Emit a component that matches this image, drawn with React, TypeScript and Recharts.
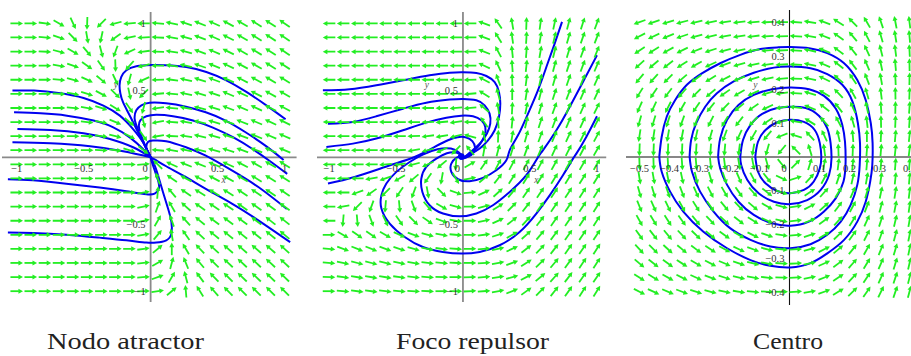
import React from 'react';
import { ComposedChart, XAxis, YAxis, Scatter, Line, ReferenceLine } from 'recharts';

// ---------- grids (arrow positions) ----------
const GRID_XY_1: number[] = [-1, -0.895, -0.789, -0.684, -0.579, -0.474, -0.368, -0.263, -0.158, -0.053, 0.053, 0.158, 0.263, 0.368, 0.474, 0.579, 0.684, 0.789, 0.895, 1];
const GRID_Y_1: number[] = [1, 0.895, 0.789, 0.684, 0.579, 0.474, 0.368, 0.263, 0.158, 0.053, -0.053, -0.158, -0.263, -0.368, -0.474, -0.579, -0.684, -0.789, -0.895, -1];
const GRID_X_3: number[] = [-0.5, -0.453, -0.405, -0.358, -0.311, -0.263, -0.216, -0.168, -0.121, -0.074, -0.026, 0.021, 0.068, 0.116, 0.163, 0.211, 0.258, 0.305, 0.353, 0.4];
const GRID_Y_3: number[] = [0.4, 0.358, 0.316, 0.274, 0.232, 0.189, 0.147, 0.105, 0.063, 0.021, -0.021, -0.063, -0.105, -0.147, -0.189, -0.232, -0.274, -0.316, -0.358, -0.4];

// ---------- arrow directions (degrees, counter-clockwise from +x) ----------
const NODO_ANGLES: number[][] = [
  [0,0,352,330,295,268,225,195,185,180,175,168,162,158,155,152,150,148,147,146],
  [0,0,355,340,315,280,258,215,192,183,177,170,164,159,156,153,150,148,147,146],
  [0,0,357,345,330,310,285,250,205,188,178,171,165,160,157,154,151,149,147,146],
  [0,0,0,350,340,325,305,272,228,195,180,172,166,161,158,155,152,150,148,147],
  [0,0,0,355,345,335,320,295,255,205,182,173,167,162,159,156,153,151,149,148],
  [0,0,0,357,350,343,332,315,282,225,185,174,168,163,160,157,155,153,151,150],
  [0,0,0,0,355,350,342,328,305,255,188,175,169,165,162,159,157,155,153,152],
  [0,0,0,0,357,354,348,338,320,285,190,176,170,166,163,161,159,157,155,154],
  [0,0,0,0,0,357,353,346,333,305,190,177,171,167,164,162,160,158,157,156],
  [0,0,0,0,0,0,357,352,343,322,175,170,168,166,164,162,160,159,158,157],
  [0,0,0,0,0,0,0,0,0,5,135,155,158,158,157,155,153,151,150,148],
  [0,0,0,0,0,0,0,0,0,8,110,145,152,153,152,151,150,149,148,147],
  [0,0,0,0,0,0,0,0,0,10,85,130,145,148,148,148,147,146,145,145],
  [0,0,0,0,0,0,0,0,0,12,70,120,138,145,146,146,145,145,144,144],
  [0,0,0,0,0,0,0,0,0,12,60,110,132,140,143,143,143,143,142,142],
  [0,0,0,0,0,0,0,0,0,10,50,100,125,137,141,141,141,141,141,140],
  [0,0,0,0,0,0,0,0,0,8,40,90,120,133,138,139,139,139,139,138],
  [0,0,0,0,0,0,0,0,0,6,30,75,112,130,136,137,137,137,137,137],
  [0,0,0,0,0,0,0,0,0,4,20,60,105,127,134,135,136,136,136,136],
  [0,0,0,0,0,0,0,0,0,2,8,40,95,122,131,134,135,135,135,135],
];

const FOCO_ANGLES: number[][] = [
  [180,180,180,180,180,180,180,180,180,180,180,160,125,100,88,82,78,75,72,70],
  [180,180,180,180,180,180,180,180,180,180,180,160,122,98,87,81,77,74,71,69],
  [180,180,180,180,180,180,180,180,180,180,180,158,118,96,86,80,76,73,70,68],
  [180,180,180,180,180,180,180,180,180,180,180,155,115,94,84,79,75,72,69,67],
  [180,180,180,180,180,180,180,180,180,180,182,152,110,92,83,78,74,71,68,66],
  [180,180,180,180,180,180,180,180,180,182,185,148,105,90,81,76,72,69,67,65],
  [180,180,180,180,180,180,180,180,182,185,185,140,100,87,79,74,70,68,66,64],
  [180,180,180,180,180,180,180,182,185,188,180,125,95,84,77,72,69,67,65,63],
  [180,180,180,180,180,180,182,188,190,195,165,105,88,80,74,70,67,65,63,62],
  [180,180,180,180,180,182,190,195,205,225,130,80,75,72,70,67,65,63,62,60],
  [180,180,180,180,185,190,195,205,220,265,30,55,62,62,62,62,61,60,60,60],
  [180,180,180,190,200,210,220,235,260,300,10,40,52,57,58,58,58,58,58,58],
  [180,180,200,215,225,235,250,280,315,340,5,25,42,50,55,56,57,57,58,58],
  [180,190,225,250,265,275,290,310,330,345,0,15,32,45,52,55,56,57,57,58],
  [180,265,275,290,295,305,315,325,340,350,0,12,25,38,48,52,55,56,57,58],
  [0,330,325,325,330,335,340,345,350,355,0,8,18,30,42,50,53,55,56,57],
  [355,340,338,338,340,342,345,348,352,356,0,5,12,25,38,47,52,55,56,57],
  [355,348,345,345,346,348,350,352,355,358,0,4,10,20,33,44,50,54,56,57],
  [358,352,350,350,350,352,354,356,358,0,2,5,9,16,28,40,48,53,55,56],
  [0,355,352,352,353,355,357,358,0,0,3,5,10,22,36,46,52,55,57,58],
];

const CENTRO_ANGLES: number[][] = [
  [200,199,197,195,193,191,189,187,185,183,180,176,170,160,148,134,120,109,101,97],
  [207,205,202,199,196,194,191,189,187,184,181,176,169,158,145,130,117,106,99,95],
  [214,212,209,206,202,198,195,192,189,186,182,176,168,157,143,128,115,104,97,93],
  [222,220,217,213,209,204,200,196,192,188,183,177,168,156,142,127,113,102,95,91],
  [230,228,225,221,217,212,207,202,197,192,186,178,167,154,139,124,111,100,93,89],
  [238,236,233,229,225,220,215,210,204,198,188,176,163,149,134,119,106,97,91,88],
  [246,245,243,240,236,231,226,220,214,205,190,173,157,142,128,114,102,94,89,86],
  [254,253,252,250,247,243,238,232,226,214,195,170,148,132,118,106,97,91,88,86],
  [261,261,260,259,257,254,250,245,240,230,202,162,133,115,103,95,90,87,85,84],
  [268,268,268,268,267,266,265,263,260,254,230,135,107,98,92,88,86,85,84,83],
  [272,272,273,274,275,276,277,279,281,286,309,45,73,80,83,84,85,85,86,86],
  [279,280,281,282,284,286,289,293,298,308,335,18,47,62,71,77,80,82,84,85],
  [286,287,289,291,294,297,300,305,311,322,342,10,33,48,59,67,74,78,81,83],
  [292,294,296,299,302,305,309,314,320,330,345,8,27,42,53,62,69,75,79,82],
  [299,301,303,306,309,313,317,322,328,336,348,6,22,36,48,58,66,72,77,80],
  [306,308,310,313,316,320,324,329,334,341,351,4,18,31,44,54,63,70,75,79],
  [313,315,317,320,323,327,331,335,340,346,354,3,15,27,40,51,61,68,74,78],
  [320,322,324,327,330,333,337,341,345,350,356,3,12,24,37,49,59,67,73,77],
  [327,329,331,333,336,339,342,346,350,354,358,3,11,22,34,46,57,66,72,76],
  [333,335,337,339,342,345,348,351,354,357,0,4,10,20,32,44,55,64,71,75],
];

// ---------- trajectories ----------
type P = [number, number];
const NODO_CURVES: P[][] = [
  [[1.008,0.284],[0.864,0.388],[0.715,0.488],[0.565,0.575],[0.416,0.637],[0.266,0.674],[0.117,0.687],[0.005,0.689],[-0.107,0.68],[-0.181,0.65],[-0.219,0.6],[-0.232,0.538],[-0.226,0.476],[-0.207,0.413],[-0.17,0.338],[-0.132,0.264],[-0.095,0.189],[-0.057,0.114],[-0.02,0.04],[0,0]],
  [[0.993,-0.02],[0.857,0.087],[0.709,0.187],[0.56,0.274],[0.412,0.336],[0.264,0.378],[0.116,0.403],[-0.007,0.407],[-0.069,0.388],[-0.107,0.351],[-0.119,0.285],[-0.095,0.21],[-0.063,0.135],[-0.03,0.062],[0,0]],
  [[1.02,-0.124],[0.9,-0.035],[0.764,0.06],[0.615,0.15],[0.465,0.222],[0.316,0.275],[0.167,0.307],[0.042,0.317],[-0.032,0.306],[-0.077,0.276],[-0.087,0.226],[-0.07,0.16],[-0.045,0.095],[-0.02,0.04],[0,0]],
  [[1.017,-0.386],[0.807,-0.224],[0.61,-0.1],[0.412,0.012],[0.264,0.075],[0.116,0.12],[0.017,0.125],[-0.02,0.114],[-0.032,0.077],[-0.02,0.035],[0,0]],
  [[1.042,-0.634],[0.807,-0.473],[0.61,-0.348],[0.412,-0.236],[0.264,-0.149],[0.116,-0.067],[0.04,-0.022],[0,0]],
  [[-1.032,0.498],[-0.872,0.498],[-0.674,0.478],[-0.501,0.443],[-0.353,0.386],[-0.23,0.311],[-0.131,0.211],[-0.057,0.112],[0,0]],
  [[-1.02,0.336],[-0.822,0.328],[-0.625,0.311],[-0.427,0.274],[-0.279,0.224],[-0.156,0.149],[-0.057,0.062],[0,0]],
  [[-0.995,0.211],[-0.748,0.204],[-0.501,0.179],[-0.304,0.137],[-0.131,0.075],[0,0]],
  [[-1.032,0.112],[-0.748,0.104],[-0.452,0.082],[-0.205,0.045],[0,0]],
  [[-1.066,-0.164],[-0.879,-0.172],[-0.63,-0.197],[-0.381,-0.226],[-0.181,-0.254],[-0.032,-0.276],[0.03,-0.271],[0.062,-0.234],[0.055,-0.172],[0.03,-0.097],[0.005,-0.022],[0,0]],
  [[-1.066,-0.562],[-0.879,-0.565],[-0.63,-0.578],[-0.381,-0.6],[-0.181,-0.62],[-0.032,-0.637],[0.042,-0.637],[0.117,-0.62],[0.155,-0.57],[0.155,-0.483],[0.13,-0.383],[0.092,-0.259],[0.055,-0.134],[0.03,-0.06],[0,0]],
];

const FOCO_CURVES: P[][] = [
  [[-1.046,0.5],[-0.846,0.508],[-0.647,0.538],[-0.448,0.575],[-0.249,0.612],[-0.099,0.632],[0,0.635],[0.1,0.63],[0.175,0.607],[0.237,0.562],[0.269,0.488],[0.279,0.401],[0.269,0.301],[0.237,0.202],[0.187,0.127],[0.125,0.065],[0.063,0.028],[0.013,0.002],[-0.015,-0.012],[-0.03,0.005],[-0.012,0.022],[0.006,0.01],[0,0]],
  [[-1.008,0.251],[-0.822,0.264],[-0.647,0.306],[-0.448,0.363],[-0.274,0.408],[-0.099,0.431],[0,0.436],[0.1,0.426],[0.162,0.388],[0.199,0.326],[0.204,0.251],[0.179,0.177],[0.137,0.115],[0.087,0.065],[0.037,0.022],[0,-0.005],[-0.025,0],[-0.02,0.02],[0,0.01]],
  [[-1.02,0.077],[-0.822,0.102],[-0.647,0.14],[-0.448,0.202],[-0.274,0.259],[-0.124,0.296],[-0.012,0.311],[0.075,0.306],[0.137,0.276],[0.167,0.226],[0.162,0.164],[0.13,0.102],[0.087,0.052],[0.045,0.015],[0.005,-0.01],[-0.02,0],[-0.012,0.015],[0,0.005]],
  [[-1.008,-0.196],[-0.809,-0.147],[-0.56,-0.065],[-0.361,0.002],[-0.211,0.077],[-0.112,0.127],[-0.04,0.15],[0.025,0.148],[0.07,0.12],[0.09,0.075],[0.075,0.03],[0.04,0.005],[0.01,-0.005],[0,0]],
  [[0.74,1.011],[0.685,0.849],[0.623,0.674],[0.56,0.5],[0.486,0.326],[0.411,0.164],[0.349,0.052],[0.324,-0.022],[0.249,-0.097],[0.149,-0.154],[0.05,-0.179],[-0.037,-0.164],[-0.087,-0.109],[-0.087,-0.047],[-0.049,-0.005],[-0.015,0.005],[0,0]],
  [[1.001,0.762],[0.896,0.562],[0.797,0.376],[0.698,0.202],[0.597,0.052],[0.56,0],[0.473,-0.134],[0.349,-0.259],[0.224,-0.358],[0.1,-0.42],[-0.025,-0.441],[-0.149,-0.42],[-0.249,-0.358],[-0.303,-0.259],[-0.311,-0.159],[-0.274,-0.072],[-0.199,-0.01],[-0.12,0.03],[-0.05,0.035],[-0.01,0.01],[0,0]],
  [[1.001,0.306],[0.921,0.152],[0.847,0.027],[0.822,-0.01],[0.747,-0.134],[0.648,-0.284],[0.548,-0.42],[0.423,-0.558],[0.274,-0.657],[0.125,-0.707],[-0.012,-0.719],[-0.149,-0.707],[-0.299,-0.67],[-0.435,-0.595],[-0.547,-0.495],[-0.609,-0.383],[-0.609,-0.284],[-0.572,-0.196],[-0.497,-0.109],[-0.398,-0.035],[-0.3,0.02],[-0.19,0.06],[-0.09,0.065],[-0.03,0.035],[0,0]],
];

const CENTRO_ORBITS: P[][] = [
  [[-0.434,0.001],[-0.426,0.06],[-0.409,0.12],[-0.381,0.169],[-0.342,0.214],[-0.292,0.248],[-0.231,0.278],[-0.164,0.303],[-0.097,0.32],[-0.041,0.325],[0.003,0.326],[0.07,0.322],[0.126,0.308],[0.182,0.278],[0.226,0.228],[0.254,0.169],[0.271,0.1],[0.277,0.041],[0.276,-0.024],[0.269,-0.073],[0.254,-0.133],[0.226,-0.192],[0.182,-0.246],[0.126,-0.286],[0.07,-0.315],[0.003,-0.328],[-0.064,-0.323],[-0.13,-0.306],[-0.208,-0.271],[-0.287,-0.222],[-0.354,-0.162],[-0.398,-0.103],[-0.426,-0.044],[-0.434,0.001]],
  [[-0.333,0.001],[-0.328,0.05],[-0.311,0.1],[-0.281,0.149],[-0.242,0.189],[-0.186,0.224],[-0.119,0.25],[-0.052,0.265],[0.003,0.268],[0.07,0.263],[0.126,0.246],[0.176,0.214],[0.21,0.164],[0.228,0.1],[0.235,0.041],[0.234,-0.024],[0.226,-0.083],[0.204,-0.142],[0.171,-0.192],[0.126,-0.231],[0.07,-0.259],[0.003,-0.271],[-0.064,-0.266],[-0.13,-0.246],[-0.197,-0.212],[-0.253,-0.162],[-0.298,-0.103],[-0.325,-0.044],[-0.333,0.001]],
  [[-0.238,0.001],[-0.231,0.055],[-0.208,0.11],[-0.17,0.154],[-0.119,0.184],[-0.058,0.201],[0.003,0.206],[0.065,0.201],[0.115,0.181],[0.154,0.144],[0.176,0.095],[0.185,0.045],[0.187,-0.014],[0.18,-0.073],[0.154,-0.123],[0.115,-0.162],[0.065,-0.192],[0.003,-0.204],[-0.058,-0.197],[-0.119,-0.172],[-0.17,-0.133],[-0.208,-0.083],[-0.231,-0.034],[-0.238,0.001]],
  [[-0.164,0.001],[-0.155,0.05],[-0.13,0.095],[-0.091,0.128],[-0.041,0.145],[0.003,0.149],[0.054,0.145],[0.098,0.122],[0.126,0.085],[0.137,0.041],[0.14,-0.004],[0.132,-0.053],[0.104,-0.098],[0.059,-0.128],[0.003,-0.14],[-0.052,-0.133],[-0.103,-0.108],[-0.141,-0.068],[-0.161,-0.024],[-0.164,0.001]],
  [[-0.114,0.001],[-0.105,0.045],[-0.08,0.08],[-0.041,0.103],[0.003,0.11],[0.048,0.104],[0.084,0.08],[0.101,0.041],[0.106,0.001],[0.101,-0.034],[0.081,-0.073],[0.048,-0.098],[0.003,-0.108],[-0.041,-0.101],[-0.08,-0.078],[-0.105,-0.044],[-0.114,0.001]],
];

// ---------- tick labels ----------
const TICKS_1_X: number[] = [-1, -0.5, 0, 0.5, 1];
const TICKS_1_X_TEXT: string[] = ['−1', '−0.5', '0', '0.5', '1'];
const TICKS_1_Y: number[] = [1, 0.5, -0.5, -1];
const TICKS_1_Y_TEXT: string[] = ['1', '0.5', '−0.5', '−1'];
const TICKS_3_X: number[] = [-0.5, -0.4, -0.3, -0.2, -0.1, 0, 0.1, 0.2, 0.3, 0.4];
const TICKS_3_X_TEXT: string[] = ['−0.5', '−0.4', '−0.3', '−0.2', '−0.1', '0', '0.1', '0.2', '0.3', '0.4'];
const TICKS_3_Y: number[] = [0.4, 0.3, 0.2, 0.1, -0.1, -0.2, -0.3, -0.4];
const TICKS_3_Y_TEXT: string[] = ['0.4', '0.3', '0.2', '0.1', '−0.1', '−0.2', '−0.3', '−0.4'];
const AXIS_NAMES_1: { x: number; y: number; t: string }[] = [{ x: 0.545, y: -0.17, t: 'x' }, { x: -0.26, y: 0.54, t: 'y' }];
const AXIS_NAMES_2: { x: number; y: number; t: string }[] = [{ x: 0.548, y: -0.17, t: 'x' }, { x: -0.269, y: 0.538, t: 'y' }];
const AXIS_NAMES_3: { x: number; y: number; t: string }[] = [{ x: -0.114, y: 0.214, t: 'y' }];
const CAPTIONS: string[] = ['Nodo atractor', 'Foco repulsor', 'Centro'];

// ---------- helpers ----------
const GREEN = '#22ee22';
const BLUE = '#0000f0';

function buildArrows(gx: number[], gy: number[], ang: number[][]) {
  const out: { x: number; y: number; a: number }[] = [];
  gy.forEach((y, i) => gx.forEach((x, j) => out.push({ x, y, a: ang[i][j] })));
  return out;
}
function toPts(c: P[]) {
  return c.map(([x, y]) => ({ x, y }));
}
function buildLabels(tx: number[], txt: string[], ty: number[], tyt: string[], names: { x: number; y: number; t: string }[]) {
  const out: any[] = [];
  tx.forEach((v, i) => out.push({ x: v, y: 0, t: txt[i], k: v === 0 ? 'x0' : 'x' }));
  ty.forEach((v, i) => out.push({ x: 0, y: v, t: tyt[i], k: 'y' }));
  names.forEach((n) => out.push({ x: n.x, y: n.y, t: n.t, k: 'n' }));
  return out;
}

const Arrow = (props: any) => {
  const { cx, cy, payload } = props;
  if (cx == null || cy == null) return <g />;
  const r = (payload.a * Math.PI) / 180;
  const dx = Math.cos(r);
  const dy = -Math.sin(r);
  const L = 12.6;
  const H = 4.6;
  const W = 2.5;
  const x0 = cx - (dx * L) / 2;
  const y0 = cy - (dy * L) / 2;
  const x1 = cx + (dx * L) / 2;
  const y1 = cy + (dy * L) / 2;
  const bx = x1 - dx * H;
  const by = y1 - dy * H;
  const px = -dy;
  const py = dx;
  return (
    <g>
      <line x1={x0} y1={y0} x2={bx + dx * 0.5} y2={by + dy * 0.5} stroke={GREEN} strokeWidth={1.8} />
      <polygon points={`${x1},${y1} ${bx + px * W},${by + py * W} ${bx - px * W},${by - py * W}`} fill={GREEN} />
    </g>
  );
};

const TickLabel = (props: any) => {
  const { cx, cy, payload } = props;
  if (cx == null || cy == null) return <g />;
  const k = payload.k;
  let x = cx;
  let y = cy;
  let anchor: any = 'middle';
  if (k === 'x') {
    y = cy + 15;
  } else if (k === 'x0') {
    x = cx - 5.5;
    y = cy + 15;
  } else if (k === 'y') {
    x = cx - 5;
    y = cy + 3.8;
    anchor = 'end';
  } else {
    y = cy + 3;
  }
  return (
    <text
      x={x}
      y={y}
      textAnchor={anchor}
      fontFamily="'Liberation Serif', 'Times New Roman', serif"
      fontSize={k === 'n' ? 9.5 : 10.5}
      fontStyle={k === 'n' ? 'italic' : 'normal'}
      fill={k === 'n' ? '#555' : '#333'}
    >
      {payload.t}
    </text>
  );
};

type PanelProps = {
  ox: number;
  oy: number;
  sx: number;
  sy: number;
  xd: [number, number];
  yd: [number, number];
  arrows: any[];
  curves: P[][];
  labels: any[];
  axisColor: string;
  axisWidth: number;
};

function Panel({ ox, oy, sx, sy, xd, yd, arrows, curves, labels, axisColor, axisWidth }: PanelProps) {
  const left = ox + xd[0] * sx;
  const top = oy - yd[1] * sy;
  const width = (xd[1] - xd[0]) * sx;
  const height = (yd[1] - yd[0]) * sy;
  return (
    <div style={{ position: 'absolute', left, top }}>
      <ComposedChart width={width} height={height} margin={{ top: 0, right: 0, bottom: 0, left: 0 }} style={{ overflow: 'visible' }}>
        <XAxis type="number" dataKey="x" domain={xd} hide allowDataOverflow />
        <YAxis type="number" dataKey="y" domain={yd} hide allowDataOverflow />
        <ReferenceLine x={0} stroke={axisColor} strokeWidth={axisWidth} />
        <ReferenceLine y={0} stroke={axisColor} strokeWidth={axisWidth} />
        <Scatter data={arrows} shape={Arrow} isAnimationActive={false} />
        {curves.map((c, i) => (
          <Line
            key={i}
            data={toPts(c)}
            dataKey="y"
            type="natural"
            stroke={BLUE}
            strokeWidth={2}
            dot={false}
            activeDot={false}
            isAnimationActive={false}
          />
        ))}
        <Scatter data={labels} shape={TickLabel} isAnimationActive={false} />
      </ComposedChart>
    </div>
  );
}

export default function App() {
  const arrows1 = buildArrows(GRID_XY_1, GRID_Y_1, NODO_ANGLES);
  const arrows2 = buildArrows(GRID_XY_1, GRID_Y_1, FOCO_ANGLES);
  const arrows3 = buildArrows(GRID_X_3, GRID_Y_3, CENTRO_ANGLES);
  const labels1 = buildLabels(TICKS_1_X, TICKS_1_X_TEXT, TICKS_1_Y, TICKS_1_Y_TEXT, AXIS_NAMES_1);
  const labels2 = buildLabels(TICKS_1_X, TICKS_1_X_TEXT, TICKS_1_Y, TICKS_1_Y_TEXT, AXIS_NAMES_2);
  const labels3 = buildLabels(TICKS_3_X, TICKS_3_X_TEXT, TICKS_3_Y, TICKS_3_Y_TEXT, AXIS_NAMES_3);
  const capFont = "'Liberation Serif', 'Times New Roman', serif";
  return (
    <div style={{ position: 'fixed', left: 0, top: 0, width: 911, height: 356, background: '#fff', overflow: 'hidden' }}>
      <Panel ox={151} oy={157} sx={133.9} sy={133.9} xd={[-1.11, 1.09]} yd={[-1.085, 1.085]} arrows={arrows1} curves={NODO_CURVES} labels={labels1} axisColor="#8a8a8a" axisWidth={1.8} />
      <Panel ox={463.3} oy={157} sx={133.9} sy={133.9} xd={[-1.09, 1.07]} yd={[-1.085, 1.085]} arrows={arrows2} curves={FOCO_CURVES} labels={labels2} axisColor="#8a8a8a" axisWidth={1.8} />
      <Panel ox={789.5} oy={157} sx={300} sy={337} xd={[-0.545, 0.405]} yd={[-0.439, 0.436]} arrows={arrows3} curves={CENTRO_ORBITS} labels={labels3} axisColor="#111" axisWidth={1.1} />
      <svg width={911} height={356} style={{ position: 'absolute', left: 0, top: 0, pointerEvents: 'none' }}>
        <text x={47} y={349} fontFamily={capFont} fontSize={24} fill="#222" textLength={157} lengthAdjust="spacingAndGlyphs">{CAPTIONS[0]}</text>
        <text x={396} y={349} fontFamily={capFont} fontSize={24} fill="#222" textLength={153} lengthAdjust="spacingAndGlyphs">{CAPTIONS[1]}</text>
        <text x={753} y={349} fontFamily={capFont} fontSize={24} fill="#222" textLength={70} lengthAdjust="spacingAndGlyphs">{CAPTIONS[2]}</text>
      </svg>
    </div>
  );
}
